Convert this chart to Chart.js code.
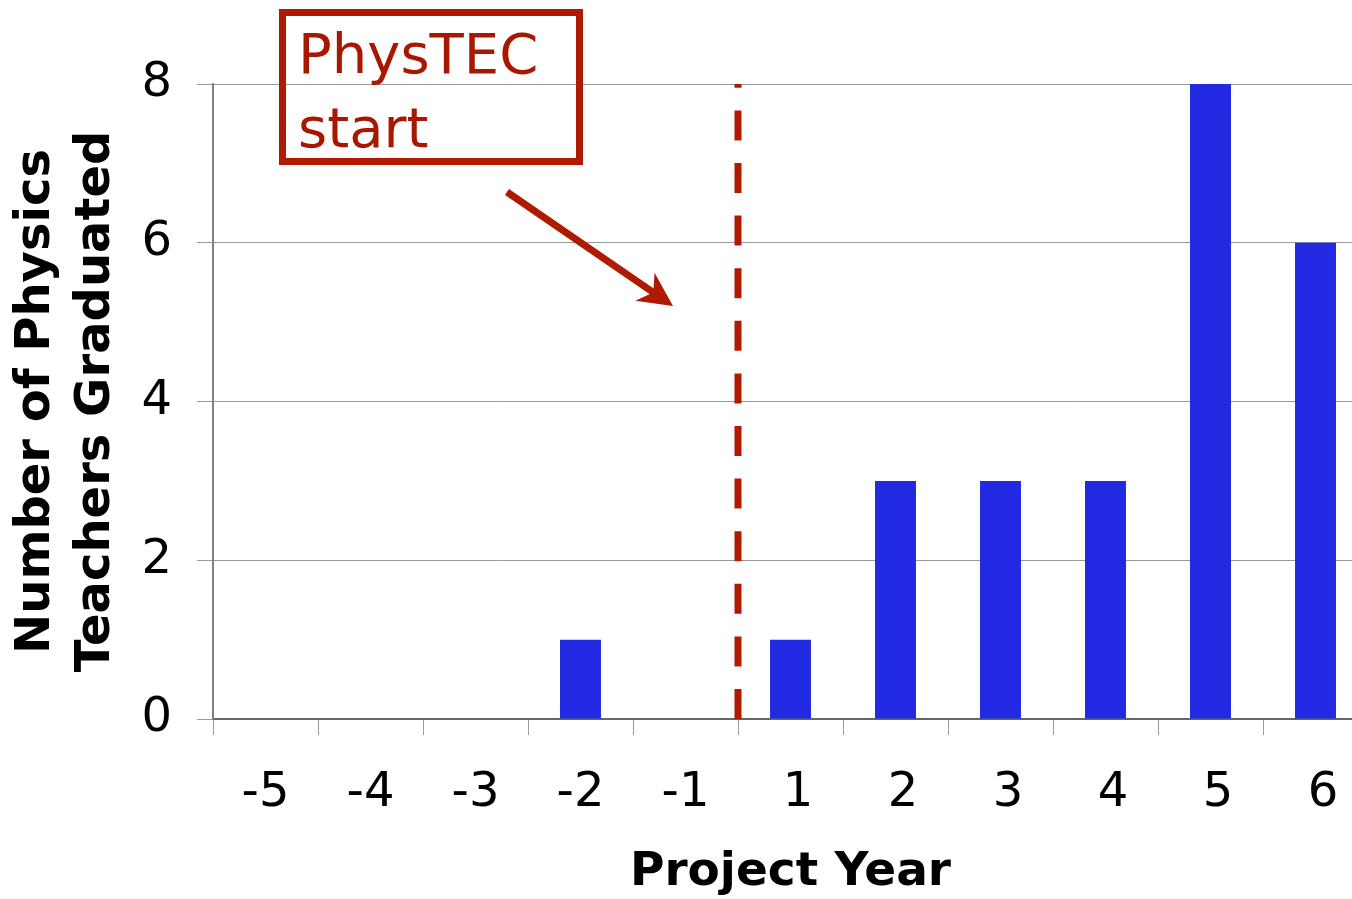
<!DOCTYPE html>
<html>
<head>
<meta charset="utf-8">
<script src="https://cdn.jsdelivr.net/npm/chart.js@4/dist/chart.umd.min.js"></script>
<style>
  html, body { margin: 0; padding: 0; background: #fff; width: 1352px; height: 899px; overflow: hidden; }
  #wrap { position: absolute; left: 0; top: 0; width: 1380px; height: 899px; }
</style>
</head>
<body>
<div id="wrap"><canvas id="c" width="1380" height="899"></canvas></div>
<script>
// Project years relative to the PhysTEC start, and teachers graduated each year
const years = ['-5', '-4', '-3', '-2', '-1', '1', '2', '3', '4', '5', '6'];
const teachersGraduated = [0, 0, 0, 1, 0, 1, 3, 3, 3, 8, 6];
const yTickValues = [0, 2, 4, 6, 8];
const startLabelLines = ['PhysTEC', 'start'];
const startAfterYear = '-1';   // dashed marker sits between this year and the next

const RED = '#b01a00';
const TEXT_RED = '#a81800';
const FONT = '"DejaVu Sans", Verdana, sans-serif';

// Dashed vertical marker at the project start, drawn between years -1 and 1
const startMarker = {
  id: 'startMarker',
  afterDatasetsDraw(chart) {
    const x = chart.scales.x, y = chart.scales.y;
    const i = years.indexOf(startAfterYear);
    const px = (x.getPixelForValue(i) + x.getPixelForValue(i + 1)) / 2;
    const yBottom = y.getPixelForValue(yTickValues[0]);
    const yTop = y.getPixelForValue(yTickValues[yTickValues.length - 1]);
    const ctx = chart.ctx;
    ctx.save();
    ctx.strokeStyle = RED;
    ctx.lineWidth = 7;
    ctx.setLineDash([30, 22.6]);
    ctx.beginPath();
    ctx.moveTo(px, yBottom);
    ctx.lineTo(px, yTop);
    ctx.stroke();
    ctx.restore();
  },
  // Callout box with label and arrow pointing at the marker
  afterDraw(chart) {
    const ctx = chart.ctx;
    ctx.save();
    // box
    ctx.strokeStyle = RED;
    ctx.lineWidth = 7;
    ctx.strokeRect(282.5, 12.5, 297, 149);
    // label
    ctx.fillStyle = TEXT_RED;
    ctx.font = '56px ' + FONT;
    ctx.textAlign = 'left';
    ctx.textBaseline = 'alphabetic';
    ctx.fillText(startLabelLines[0], 298, 73);
    ctx.fillText(startLabelLines[1], 298, 147);
    // arrow
    const x0 = 507, y0 = 192, x1 = 673, y1 = 306;
    const dx = x1 - x0, dy = y1 - y0, len = Math.hypot(dx, dy);
    const ux = dx / len, uy = dy / len, nx = -uy, ny = ux;
    const headLen = 34, headHalf = 17, notch = 24;
    ctx.strokeStyle = RED;
    ctx.lineWidth = 7;
    ctx.lineCap = 'butt';
    ctx.beginPath();
    ctx.moveTo(x0, y0);
    ctx.lineTo(x1 - ux * notch, y1 - uy * notch);
    ctx.stroke();
    ctx.fillStyle = RED;
    ctx.beginPath();
    ctx.moveTo(x1, y1);
    ctx.lineTo(x1 - ux * headLen + nx * headHalf, y1 - uy * headLen + ny * headHalf);
    ctx.lineTo(x1 - ux * notch, y1 - uy * notch);
    ctx.lineTo(x1 - ux * headLen - nx * headHalf, y1 - uy * headLen - ny * headHalf);
    ctx.closePath();
    ctx.fill();
    ctx.restore();
  }
};

new Chart(document.getElementById('c'), {
  type: 'bar',
  data: {
    labels: years,
    datasets: [{
      data: teachersGraduated,
      backgroundColor: '#2129e3',
      borderWidth: 0,
      categoryPercentage: 1,
      barPercentage: 0.39
    }]
  },
  options: {
    responsive: false,
    animation: false,
    devicePixelRatio: 1,
    layout: { padding: { top: 84, right: 12, left: 0, bottom: 0 } },
    plugins: { legend: { display: false }, tooltip: { enabled: false } },
    scales: {
      x: {
        offset: true,
        grid: { display: true, offset: true, drawOnChartArea: false, drawTicks: true, tickLength: 16, color: '#999' },
        border: { display: true, color: '#666', width: 2 },
        ticks: {
          color: '#000',
          padding: 30,
          font: { family: FONT, size: 48 },
          maxRotation: 0,
          autoSkip: false,
          // positive years keep a blank where the minus sign would be
          callback(value) {
            const label = years[value];
            return label.startsWith('-') ? label : ' ' + label;
          }
        },
        title: {
          display: true,
          text: 'Project Year',
          color: '#000',
          font: { family: FONT, size: 47, weight: 'bold', lineHeight: 1.2 },
          padding: { top: 0, bottom: -2 }
        },
        afterFit(scale) { scale.height = 180; }
      },
      y: {
        min: 0,
        max: 8,
        afterBuildTicks(scale) { scale.ticks = yTickValues.map(v => ({ value: v })); },
        grid: { color: '#999', lineWidth: 1, tickLength: 16, drawTicks: true },
        border: { display: true, color: '#808080', width: 2 },
        ticks: { color: '#000', padding: 25, font: { family: FONT, size: 48 } },
        title: {
          display: true,
          text: ['Number of Physics', 'Teachers Graduated'],
          color: '#000',
          font: { family: FONT, size: 48, weight: 'bold', lineHeight: 60 / 48 },
          padding: { top: 7, bottom: 0 }
        },
        afterFit(scale) { scale.width = 213; }
      }
    }
  },
  plugins: [startMarker]
});
</script>
</body>
</html>
